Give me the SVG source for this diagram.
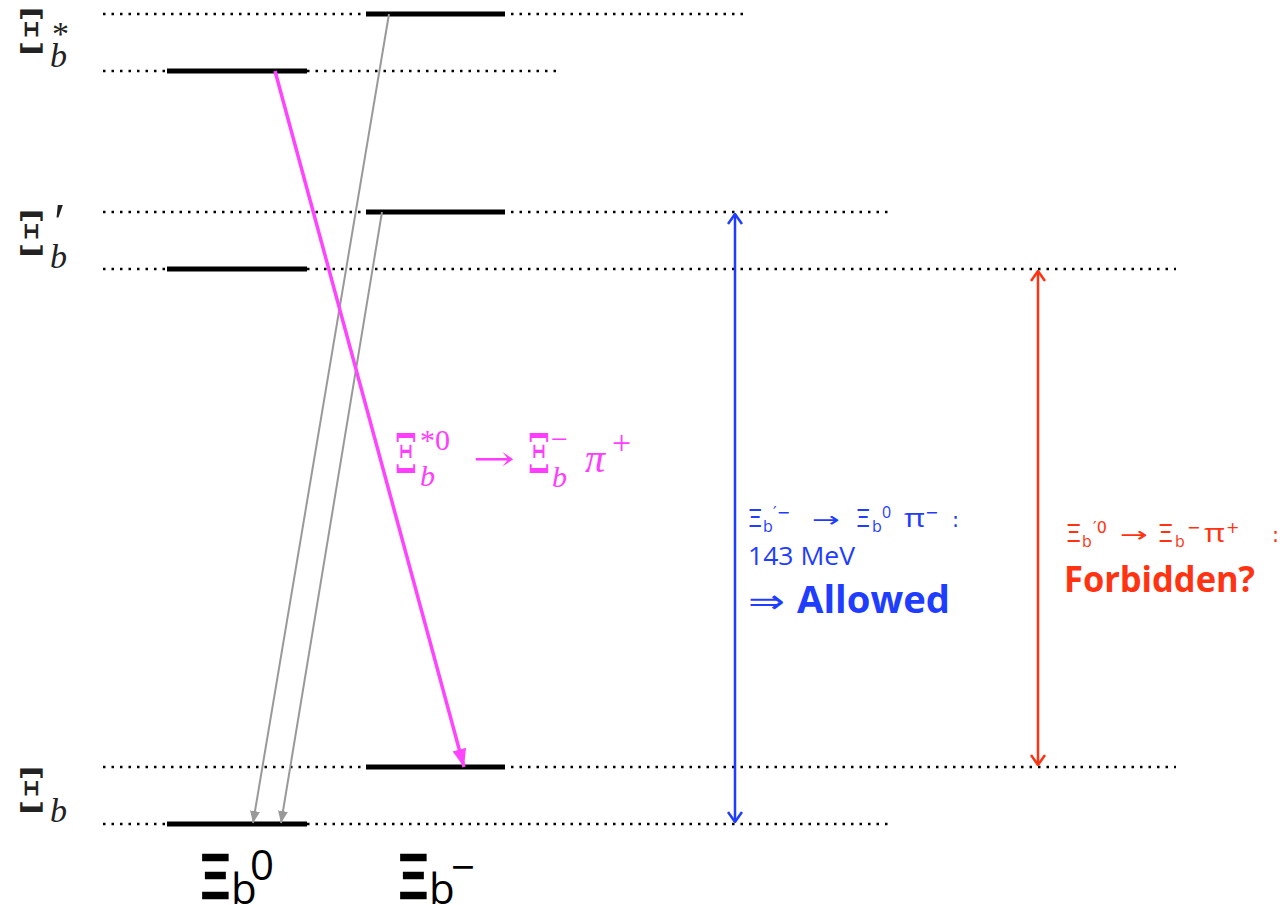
<svg xmlns="http://www.w3.org/2000/svg" width="1286" height="905" viewBox="0 0 1286 905">
<style>
.dot{stroke:#000;stroke-width:2.5;stroke-dasharray:2.5 6;fill:none}
.bar{stroke:#000;stroke-width:5;fill:none}
.serif{font-family:"DejaVu Serif","Liberation Serif",serif;fill:#222}
.lser{font-family:"Liberation Serif","DejaVu Serif",serif}
.it{font-style:italic}
.sans{font-family:"DejaVu Sans","Open Sans",sans-serif}
.osans{font-family:"Open Sans","DejaVu Sans",sans-serif}
.blue{fill:#1f3dff}
.red{fill:#ff3311}
.mag{fill:#ff3dff}
.thick{stroke:#000;stroke-width:2.5}
</style>
<defs>
<marker id="gh" markerUnits="userSpaceOnUse" markerWidth="12" markerHeight="10" refX="12" refY="5" orient="auto"><path d="M0,0 L12,5 L0,10 z" fill="#999"/></marker>
<marker id="mh" markerUnits="userSpaceOnUse" markerWidth="18" markerHeight="14" refX="18" refY="7" orient="auto"><path d="M0,0 L18,7 L0,14 z" fill="#ff44ff"/></marker>
<marker id="bh" markerUnits="userSpaceOnUse" markerWidth="12" markerHeight="16" refX="11" refY="8" orient="auto-start-reverse"><path d="M1,1 L11,8 L1,15" fill="none" stroke="#1f3dff" stroke-width="2.5"/></marker>
<marker id="rh" markerUnits="userSpaceOnUse" markerWidth="12" markerHeight="16" refX="11" refY="8" orient="auto-start-reverse"><path d="M1,1 L11,8 L1,15" fill="none" stroke="#ff3311" stroke-width="2.5"/></marker>
</defs>
<rect width="1286" height="905" fill="#fff"/>
<g id="guides">
<line class="dot" x1="103" y1="14" x2="748" y2="14"/>
<line class="dot" x1="103" y1="71" x2="556" y2="71"/>
<line class="dot" x1="103" y1="212" x2="888" y2="212"/>
<line class="dot" x1="103" y1="269" x2="1176" y2="269"/>
<line class="dot" x1="103" y1="767" x2="1176" y2="767"/>
<line class="dot" x1="103" y1="824" x2="888" y2="824"/>
</g>
<g id="lvl-xistar-minus"><line class="bar" x1="366" y1="14" x2="505" y2="14"/></g>
<g id="lvl-xistar-zero"><line class="bar" x1="167" y1="71" x2="307" y2="71"/></g>
<g id="lvl-xiprime-minus"><line class="bar" x1="366" y1="212" x2="505" y2="212"/></g>
<g id="lvl-xiprime-zero"><line class="bar" x1="167" y1="269" x2="307" y2="269"/></g>
<g id="lvl-xi-minus"><line class="bar" x1="366" y1="767" x2="505" y2="767"/></g>
<g id="lvl-xi-zero"><line class="bar" x1="167" y1="824" x2="307" y2="824"/></g>
<g id="connectors">
<line x1="389" y1="14" x2="253" y2="823" stroke="#999" stroke-width="2" marker-end="url(#gh)"/>
<line x1="382" y1="212" x2="281" y2="823" stroke="#999" stroke-width="2" marker-end="url(#gh)"/>
<line x1="275" y1="71" x2="464" y2="767" stroke="#ff44ff" stroke-width="3.5" marker-end="url(#mh)"/>
<line x1="735" y1="214" x2="735" y2="822" stroke="#1f3dff" stroke-width="2.5" marker-start="url(#bh)" marker-end="url(#bh)"/>
<line x1="1038" y1="271" x2="1038" y2="765" stroke="#ff3311" stroke-width="2.5" marker-start="url(#rh)" marker-end="url(#rh)"/>
</g>
<g id="label-xistar">
<text class="serif" x="18" y="53" font-size="60" textLength="27" lengthAdjust="spacingAndGlyphs">Ξ</text>
<text class="lser" fill="#222" x="52" y="45" font-size="34">*</text>
<text class="lser it" fill="#222" x="50" y="67" font-size="34">b</text>
</g>
<g id="label-xiprime">
<text class="serif" x="18" y="255" font-size="60" textLength="27" lengthAdjust="spacingAndGlyphs">Ξ</text>
<text class="lser" fill="#222" x="54" y="240" font-size="52">′</text>
<text class="lser it" fill="#222" x="50" y="268" font-size="34">b</text>
</g>
<g id="label-xi">
<text class="serif" x="18" y="812" font-size="60" textLength="27" lengthAdjust="spacingAndGlyphs">Ξ</text>
<text class="lser it" fill="#222" x="50" y="822" font-size="34">b</text>
</g>
<g id="label-xib0" fill="#000">
<text class="sans thick" x="198" y="898" font-size="58" textLength="34" lengthAdjust="spacingAndGlyphs">Ξ</text>
<text class="osans" x="231" y="904" font-size="42">b</text>
<text class="osans" x="250" y="880" font-size="42">0</text>
</g>
<g id="label-xibminus" fill="#000">
<text class="sans thick" x="396" y="898" font-size="58" textLength="34" lengthAdjust="spacingAndGlyphs">Ξ</text>
<text class="osans" x="429" y="904" font-size="42">b</text>
<text class="osans" x="451" y="882" font-size="42">−</text>
</g>
<g id="label-magenta">
<text class="serif mag" x="395" y="473" font-size="54" textLength="22" lengthAdjust="spacingAndGlyphs">Ξ</text>
<text class="lser mag it" x="420" y="486" font-size="30">b</text>
<text class="lser mag" x="420" y="450" font-size="30">*0</text>
<text class="serif mag" x="473" y="470" font-size="34" textLength="42" lengthAdjust="spacingAndGlyphs">→</text>
<text class="serif mag" x="528" y="473" font-size="54" textLength="22" lengthAdjust="spacingAndGlyphs">Ξ</text>
<text class="lser mag" x="551" y="449" font-size="30">−</text>
<text class="lser mag it" x="552" y="487" font-size="30">b</text>
<text class="lser mag it" x="585" y="472" font-size="40">π</text>
<text class="lser mag" x="612" y="454" font-size="34">+</text>
</g>
<g id="label-blue">
<text class="sans blue" x="747" y="527" font-size="24" textLength="16" lengthAdjust="spacingAndGlyphs">Ξ</text>
<text class="osans blue" x="763" y="532" font-size="16">b</text>
<text class="sans blue" x="773" y="518" font-size="16">′−</text>
<text class="sans blue" x="812" y="527" font-size="21" textLength="28" lengthAdjust="spacingAndGlyphs">→</text>
<text class="sans blue" x="855" y="527" font-size="24" textLength="16" lengthAdjust="spacingAndGlyphs">Ξ</text>
<text class="osans blue" x="872" y="532" font-size="16">b</text>
<text class="osans blue" x="882" y="518" font-size="16">0</text>
<text class="osans blue" x="904" y="527" font-size="26" textLength="21" lengthAdjust="spacingAndGlyphs">π</text>
<text class="sans blue" x="925" y="518" font-size="16">−</text>
<text class="sans blue" x="952" y="527" font-size="21">:</text>
<text class="osans blue" x="748" y="565" font-size="26" textLength="107" lengthAdjust="spacingAndGlyphs">143 MeV</text>
<text class="sans blue" x="748" y="613" font-size="34" textLength="37" lengthAdjust="spacingAndGlyphs">⇒</text>
<text class="osans blue" x="797" y="613" font-size="38" font-weight="bold" textLength="153" lengthAdjust="spacingAndGlyphs">Allowed</text>
</g>
<g id="label-red">
<text class="sans red" x="1065" y="542" font-size="24" textLength="17" lengthAdjust="spacingAndGlyphs">Ξ</text>
<text class="osans red" x="1082" y="547" font-size="16">b</text>
<text class="sans red" x="1093" y="533" font-size="16">′0</text>
<text class="sans red" x="1120" y="542" font-size="21" textLength="28" lengthAdjust="spacingAndGlyphs">→</text>
<text class="sans red" x="1157" y="542" font-size="24" textLength="17" lengthAdjust="spacingAndGlyphs">Ξ</text>
<text class="osans red" x="1175" y="547" font-size="16">b</text>
<text class="sans red" x="1187" y="533" font-size="16">−</text>
<text class="osans red" x="1204" y="542" font-size="26" textLength="21" lengthAdjust="spacingAndGlyphs">π</text>
<text class="sans red" x="1226" y="533" font-size="16">+</text>
<text class="sans red" x="1272" y="542" font-size="21">:</text>
<text class="osans red" x="1064" y="592" font-size="36" font-weight="bold" textLength="191" lengthAdjust="spacingAndGlyphs">Forbidden?</text>
</g>
</svg>
